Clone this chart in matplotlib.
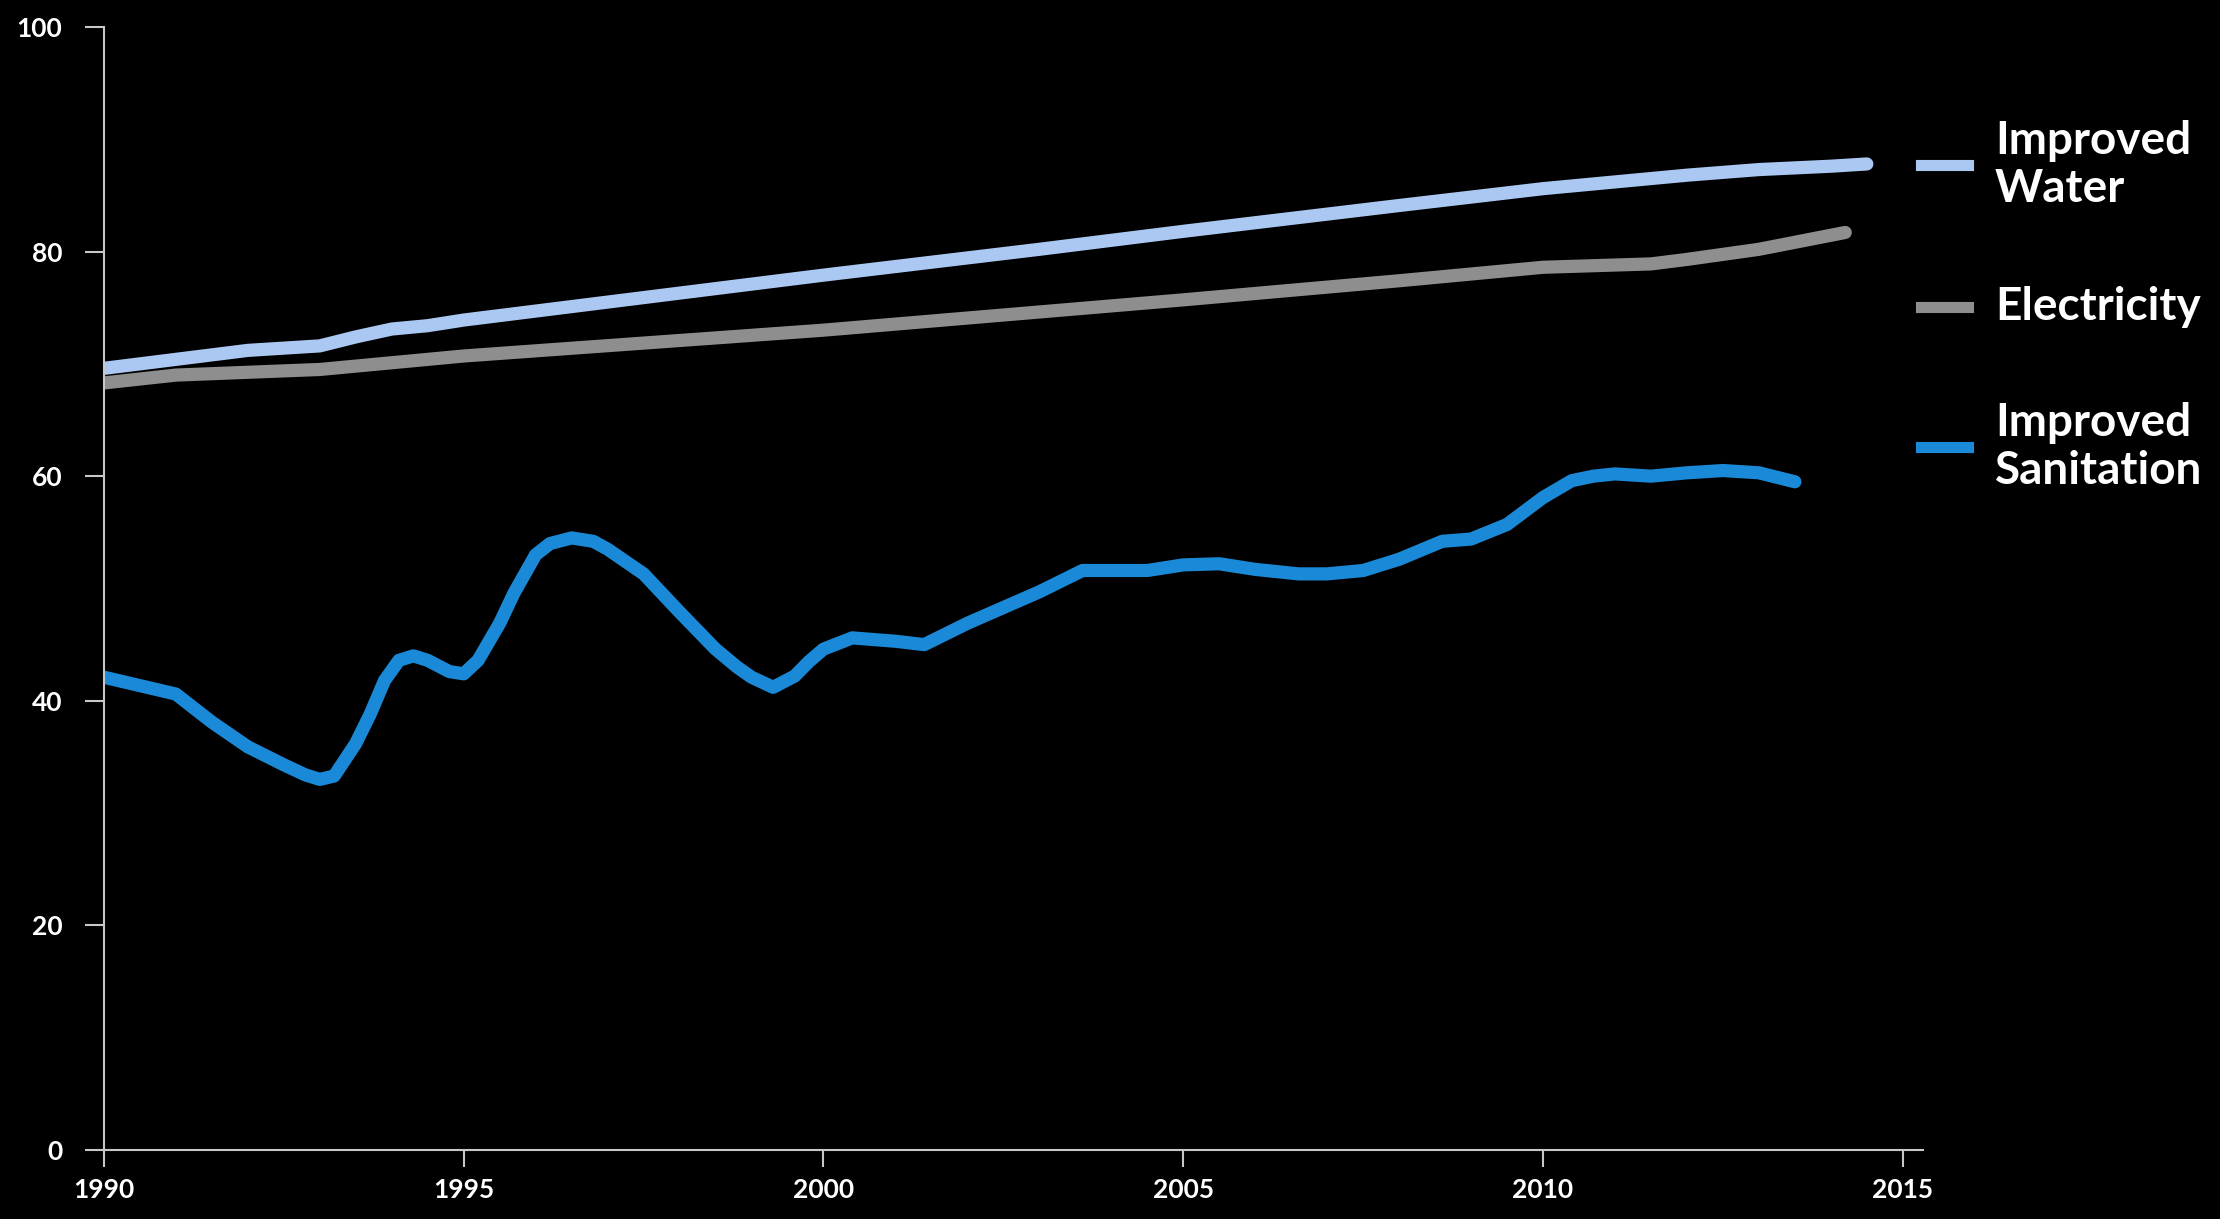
import matplotlib
matplotlib.use('Agg')
from matplotlib import pyplot as plt
from matplotlib.lines import Line2D

# values
water_years = [1990, 1991, 1992, 1993, 1993.5, 1994, 1994.5, 1995, 1997, 2000,
               2003, 2005, 2008, 2010, 2012, 2013, 2014, 2014.5]
water = [69.6, 70.4, 71.2, 71.6, 72.4, 73.1, 73.4, 73.9, 75.5, 77.9,
         80.2, 81.8, 84.1, 85.6, 86.8, 87.3, 87.6, 87.8]

elec_years = [1990, 1991, 1993, 1995, 2000, 2005, 2008, 2010, 2011.5, 2012,
              2013, 2014.2]
elec = [68.3, 69.0, 69.5, 70.7, 73.0, 75.7, 77.4, 78.6, 78.9, 79.3,
        80.2, 81.7]

san_years = [1990, 1991, 1991.5, 1992, 1992.5, 1992.8, 1993, 1993.2, 1993.5, 1993.7,
             1993.9, 1994.1, 1994.3, 1994.5, 1994.8, 1995, 1995.2, 1995.5, 1995.7, 1996,
             1996.2, 1996.5, 1996.8, 1997, 1997.5, 1998, 1998.5, 1998.8, 1999, 1999.3,
             1999.6, 1999.8, 2000, 2000.4, 2001, 2001.4, 2002, 2003, 2003.6, 2004,
             2004.5, 2005, 2005.5, 2006, 2006.6, 2007, 2007.5, 2008, 2008.6, 2009,
             2009.5, 2010, 2010.4, 2010.7, 2011, 2011.5, 2012, 2012.5, 2013, 2013.5]
san = [42.1, 40.6, 38.1, 35.9, 34.3, 33.4, 33.0, 33.3, 36.2, 38.8,
       41.8, 43.6, 44.0, 43.6, 42.6, 42.4, 43.6, 46.9, 49.6, 53.0,
       54.0, 54.5, 54.2, 53.5, 51.3, 47.9, 44.6, 43.0, 42.1, 41.2,
       42.2, 43.5, 44.6, 45.6, 45.3, 45.0, 46.9, 49.7, 51.6, 51.6,
       51.6, 52.1, 52.2, 51.7, 51.3, 51.3, 51.6, 52.6, 54.2, 54.4,
       55.7, 58.1, 59.6, 60.0, 60.2, 60.0, 60.3, 60.5, 60.3, 59.5]

labels = ['Improved\nWater', 'Electricity', 'Improved\nSanitation']
colors = ['#aac8f2', '#8e8e8e', '#1a8ad8']

x_ticks = [1990, 1995, 2000, 2005, 2010, 2015]
y_ticks = [0, 20, 40, 60, 80, 100]

plt.rcParams['font.family'] = ['Lato', 'DejaVu Sans']

fig = plt.figure(figsize=(22.2, 12.19), dpi=100, facecolor='black')
ax = fig.add_axes([0.0468, 0.0566, 0.8194, 0.9213], facecolor='black')

series = [(water_years, water), (elec_years, elec), (san_years, san)]
for (xs, ys), c in zip(series, colors):
    ax.plot(xs, ys, color=c, lw=9.5, solid_capstyle='round', solid_joinstyle='round')

ax.set_xlim(1990, 2015.28)
ax.set_ylim(0, 100)
ax.set_xticks(x_ticks)
ax.set_yticks(y_ticks)
for s in ['top', 'right']:
    ax.spines[s].set_visible(False)
for s in ['left', 'bottom']:
    ax.spines[s].set_color('#c8c8c8')
    ax.spines[s].set_linewidth(1.5)
ax.tick_params(axis='y', colors='#c8c8c8', labelcolor='white', length=14, width=1.5,
               pad=16, labelsize=19)
ax.tick_params(axis='x', colors='#c8c8c8', labelcolor='white', length=12, width=1.5,
               pad=8, labelsize=19)
for t in ax.get_xticklabels() + ax.get_yticklabels():
    t.set_fontweight('bold')

# legend drawn at the right, outside the axes
leg_y = [1 - 165 / 1219, 1 - 307 / 1219, 1 - 447 / 1219]
for lab, c, yy in zip(labels, colors, leg_y):
    fig.add_artist(Line2D([1921 / 2220, 1968 / 2220], [yy, yy], color=c, lw=8,
                          transform=fig.transFigure))
    fig.text(1995 / 2220, yy, lab, color='white', fontsize=33, fontweight='bold',
             va='center', ha='left', linespacing=1.15)

fig.savefig('out.png', dpi=100, facecolor='black')
